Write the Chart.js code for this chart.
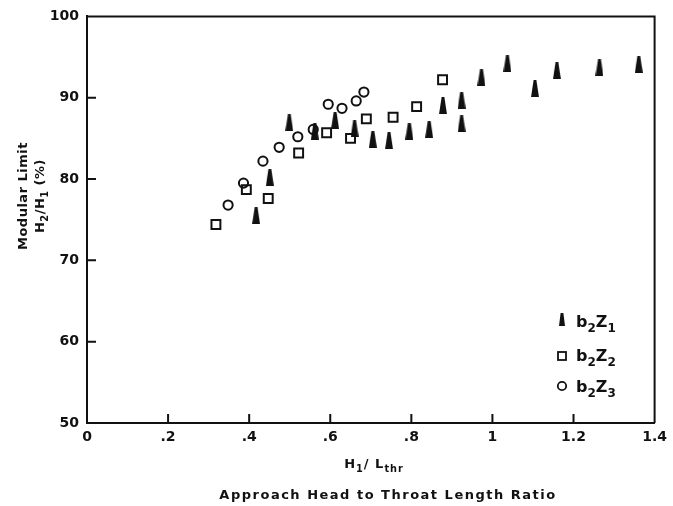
<!DOCTYPE html>
<html>
<head>
<meta charset="utf-8">
<script src="https://cdn.jsdelivr.net/npm/chart.js@4"></script>
<style>
	html, body { margin: 0; padding: 0; background: #fff; }
	#wrap { width: 673px; height: 506px; }
</style>
</head>
<body>
<div id="wrap"><canvas id="scatterOne" width="673" height="506"></canvas></div>
<script>
// b2Z1 - filled tapered triangles
var z1X = [0.417, 0.451, 0.499, 0.562, 0.612, 0.660, 0.705, 0.745, 0.795, 0.844, 0.878, 0.924, 0.924, 0.973, 1.037, 1.105, 1.159, 1.264, 1.361];
var z1Y = [75.5, 80.2, 86.9, 85.9, 87.2, 86.2, 84.9, 84.7, 85.9, 86.1, 89.0, 89.7, 86.8, 92.5, 94.2, 91.1, 93.3, 93.7, 94.1];
// b2Z2 - open squares
var z2X = [0.318, 0.393, 0.447, 0.522, 0.591, 0.650, 0.689, 0.755, 0.813, 0.877];
var z2Y = [74.4, 78.7, 77.6, 83.2, 85.7, 85.0, 87.4, 87.6, 88.9, 92.2];
// b2Z3 - open circles
var z3X = [0.348, 0.386, 0.434, 0.474, 0.520, 0.558, 0.595, 0.629, 0.664, 0.683];
var z3Y = [76.8, 79.5, 82.2, 83.9, 85.2, 86.1, 89.2, 88.7, 89.6, 90.7];

var xTicks = [0, 0.2, 0.4, 0.6, 0.8, 1, 1.2, 1.4];
var yTicks = [50, 60, 70, 80, 90, 100];

var ink = "#111";
var font = "'DejaVu Sans', 'Liberation Sans', sans-serif";

function toPoints(xs, ys) {
	var pts = [];
	xs.forEach((x, i) => pts.push({ x: x, y: ys[i] }));
	return pts;
}

// tall narrow cone used by the b2Z1 series
function makeCone(w, h) {
	var c = document.createElement("canvas");
	c.width = w;
	c.height = h;
	var g = c.getContext("2d");
	g.fillStyle = ink;
	g.beginPath();
	g.moveTo(w / 2 - 1.4, 0);
	g.lineTo(w / 2 + 1.4, 0);
	g.lineTo(w, h);
	g.lineTo(0, h);
	g.closePath();
	g.fill();
	return c;
}
var cone = makeCone(8, 17);
var coneSmall = makeCone(6, 13);

// text with subscripts, parts = [[text, isSub], ...]
function richText(ctx, parts, x, y, size, align) {
	var total = 0;
	parts.forEach(p => {
		ctx.font = "bold " + (p[1] ? size * 0.75 : size) + "px " + font;
		total += ctx.measureText(p[0]).width;
	});
	var cx = align === "center" ? x - total / 2 : x;
	ctx.textAlign = "left";
	ctx.textBaseline = "alphabetic";
	parts.forEach(p => {
		ctx.font = "bold " + (p[1] ? size * 0.75 : size) + "px " + font;
		ctx.fillText(p[0], cx, p[1] ? y + size * 0.3 : y);
		cx += ctx.measureText(p[0]).width;
	});
}

var decor = {
	id: "decor",
	afterDraw(chart) {
		var ctx = chart.ctx;
		var a = chart.chartArea;
		var sx = chart.scales.x;
		var sy = chart.scales.y;
		ctx.save();
		ctx.strokeStyle = ink;
		ctx.fillStyle = ink;
		ctx.lineWidth = 2;

		// top and right frame
		ctx.beginPath();
		ctx.moveTo(a.left, a.top);
		ctx.lineTo(a.right, a.top);
		ctx.lineTo(a.right, a.bottom);
		ctx.stroke();

		// inward tick marks
		ctx.beginPath();
		yTicks.slice(1, -1).forEach(v => {
			var py = sy.getPixelForValue(v);
			ctx.moveTo(a.left, py);
			ctx.lineTo(a.left + 9, py);
		});
		xTicks.slice(1, -1).forEach(v => {
			var px = sx.getPixelForValue(v);
			ctx.moveTo(px, a.bottom);
			ctx.lineTo(px, a.bottom - 9);
		});
		ctx.stroke();

		// y axis title
		ctx.save();
		ctx.translate(27, 196);
		ctx.rotate(-Math.PI / 2);
		ctx.letterSpacing = "0.5px";
		richText(ctx, [["Modular Limit", false]], 0, 0, 13, "center");
		richText(ctx, [["H", false], ["2", true], ["/H", false], ["1", true], [" (%)", false]], 0, 17, 13, "center");
		ctx.restore();

		// x axis titles
		ctx.letterSpacing = "1px";
		richText(ctx, [["H", false], ["1", true], ["/ L", false], ["thr", true]], 374, 468, 13, "center");
		ctx.letterSpacing = "1.5px";
		richText(ctx, [["Approach Head to Throat Length Ratio", false]], 388, 499, 13, "center");
		ctx.letterSpacing = "0px";

		// legend
		var rows = [
			{ y: 322, sub: "1" },
			{ y: 356, sub: "2" },
			{ y: 387, sub: "3" }
		];
		ctx.drawImage(coneSmall, 559, 313);
		ctx.lineWidth = 1.8;
		ctx.strokeRect(558, 352, 8, 8);
		ctx.beginPath();
		ctx.arc(562, 386, 4.2, 0, Math.PI * 2);
		ctx.stroke();
		rows.forEach(r => {
			richText(ctx, [["b", false], ["2", true], ["Z", false], [r.sub, true]], 576, r.y + 5, 16, "left");
		});
		ctx.restore();
	}
};

new Chart(document.getElementById("scatterOne"), {
	type: "scatter",
	data: {
		datasets: [{
			label: "b2Z1",
			data: toPoints(z1X, z1Y),
			pointStyle: cone,
			backgroundColor: ink,
			borderColor: ink
		},
		{
			label: "b2Z2",
			data: toPoints(z2X, z2Y),
			pointStyle: "rect",
			pointRadius: 6.3,
			borderWidth: 2,
			backgroundColor: "rgba(0,0,0,0)",
			borderColor: ink
		},
		{
			label: "b2Z3",
			data: toPoints(z3X, z3Y),
			pointStyle: "circle",
			pointRadius: 4.6,
			borderWidth: 2,
			backgroundColor: "rgba(0,0,0,0)",
			borderColor: ink
		}]
	},
	options: {
		responsive: false,
		animation: false,
		events: [],
		layout: { padding: { top: 15, right: 16, left: 0, bottom: 0 } },
		plugins: {
			legend: { display: false },
			tooltip: { enabled: false }
		},
		scales: {
			x: {
				type: "linear",
				min: 0,
				max: 1.4,
				afterBuildTicks: s => { s.ticks = xTicks.map(v => ({ value: v })); },
				afterFit: s => { s.height = 83; },
				grid: { display: false, drawTicks: false },
				border: { display: true, color: ink, width: 2 },
				ticks: {
					color: ink,
					padding: 6,
					maxRotation: 0,
					font: { family: font, size: 14, weight: "bold" },
					callback: v => v === 0 ? "0" : String(+v.toFixed(1)).replace(/^0\./, ".")
				}
			},
			y: {
				type: "linear",
				min: 50,
				max: 100,
				afterBuildTicks: s => { s.ticks = yTicks.map(v => ({ value: v })); },
				afterFit: s => { s.width = 87; },
				grid: { display: false, drawTicks: false },
				border: { display: true, color: ink, width: 2 },
				ticks: {
					color: ink,
					padding: 8,
					font: { family: font, size: 14, weight: "bold" },
					callback: v => String(v)
				}
			}
		}
	},
	plugins: [decor]
});
</script>
</body>
</html>
